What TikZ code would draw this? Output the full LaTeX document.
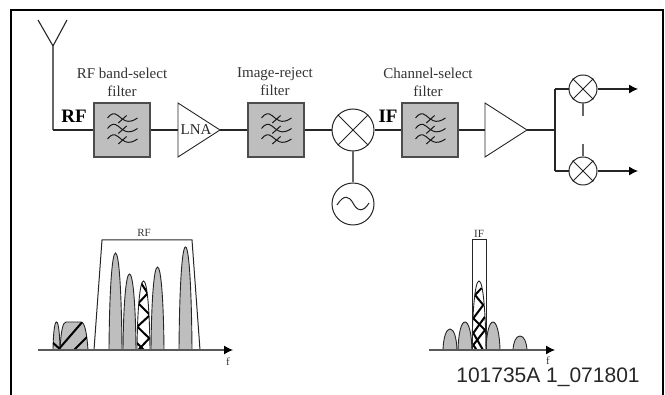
\documentclass[tikz,border=0pt]{standalone}
\usepackage{fontspec}
\setmainfont{Liberation Serif}
\newfontfamily\arialf{Liberation Sans}
\usetikzlibrary{arrows.meta}
\definecolor{fgray}{HTML}{BEBEBE}
\tikzset{
  x=1pt,y=-1pt,
  wire/.style={line width=1.1pt,black!85},
  stubw/.style={line width=1.3pt,black!60},
  filterbox/.style={draw=black!70,fill=fgray,line width=1.2pt,minimum width=56pt,minimum height=54pt,inner sep=0pt},
  caption/.style={font=\fontsize{15}{18}\selectfont,align=center,text=black!80,inner sep=0pt},
  bigtag/.style={font=\fontsize{19}{19}\selectfont\bfseries,inner sep=0pt},
  smalltag/.style={font=\fontsize{11}{11}\selectfont,text=black!80,inner sep=0pt},
  tri/.style={line width=0.9pt,black!85},
  mixer/.style={circle,draw=black!85,line width=1pt,fill=white,inner sep=0pt},
  peak/.style={draw=black!85,line width=0.9pt,fill=fgray},
  hatchline/.style={line width=2pt,black},
  axisline/.style={line width=1.1pt,black!65,-{Latex[length=9pt,width=9pt,black]}},
  outarrow/.style={wire,-{Latex[length=9pt,width=9pt,black]}}
}
\newcommand{\filterglyph}[1]{%
  \foreach \d in {-10.5,0,10.5}{
    \draw[line width=1pt,black!90,shift={(#1)},yshift=-\d pt]
      (-14.5,-1.5) .. controls (-11,-6) and (-8,-7) .. (-4,-4) .. controls (0,-1) and (5,6) .. (15.5,-1.5);
    \draw[line width=1pt,black!90,shift={(#1)},yshift=-\d pt]
      (-3.7,3.5) -- (4.6,-4);
  }%
}
\newcommand{\peakpath}[3]{(#1,350) .. controls ({#1+(#2-#1)*0.03},{#3+(350-#3)*0.42}) and ({#1+(#2-#1)*0.22},#3) .. ({(#1+#2)/2},#3) .. controls ({#2-(#2-#1)*0.22},#3) and ({#2-(#2-#1)*0.03},{#3+(350-#3)*0.42}) .. (#2,350) -- cycle}
\begin{document}
\begin{tikzpicture}
\useasboundingbox (0,0) rectangle (665,395);
\draw[line width=2pt] (11,395) -- (11,10) -- (663,10) -- (663,395);
\coordinate (ant) at (53,46);
\coordinate (antl) at (38,20);
\coordinate (antr) at (67,20);
\coordinate (corner) at (53,130);
\node[filterbox] (f1) at (122,130) {};
\node[filterbox] (f2) at (276,130) {};
\node[filterbox] (f3) at (430,130) {};
\coordinate (t1a) at (178,103); \coordinate (t1b) at (178,157); \coordinate (t1c) at (220,130);
\coordinate (t2a) at (485,103); \coordinate (t2b) at (485,157); \coordinate (t2c) at (527,130);
\node[mixer,minimum size=42pt] (m) at (353,130) {};
\node[mixer,minimum size=42pt] (osc) at (353,204) {};
\node[mixer,minimum size=28pt] (mu) at (583,89) {};
\node[mixer,minimum size=28pt] (ml) at (583,171) {};
\coordinate (split) at (555,130);
\coordinate (su) at (555,89);
\coordinate (sl) at (555,171);
\coordinate (outu) at (638,89);
\coordinate (outl) at (638,171);
\coordinate (stubu) at (583,116);
\coordinate (stubl) at (583,144);
\draw[wire] (antl) -- (ant) -- (antr);
\draw[stubw] (ant) -- (corner);
\draw[wire] (corner) -- (f1.west);
\draw[tri] (t1a) -- (t1c) -- (t1b) -- cycle;
\draw[tri] (t2a) -- (t2c) -- (t2b) -- cycle;
\node[font=\fontsize{15}{15}\selectfont,text=black!85,inner sep=0pt] (lna) at (196,130) {LNA};
\draw[wire] (f1.east) -- (t1a |- f1.east);
\draw[wire] (t1c) -- (f2.west);
\draw[wire] (f2.east) -- (m.west);
\draw[wire] (m.east) -- (f3.west);
\draw[wire] (f3.east) -- (t2a |- f3.east);
\draw[wire] (t2c) -- (split);
\draw[wire] (su) -- (sl);
\draw[wire] (su) -- (mu.west);
\draw[wire] (sl) -- (ml.west);
\draw[outarrow] (mu.east) -- (outu);
\draw[outarrow] (ml.east) -- (outl);
\draw[stubw] (mu.south) -- (stubu);
\draw[stubw] (ml.north) -- (stubl);
\draw[stubw] (m.south) -- (osc.north);
\foreach \n in {m,mu,ml}{
  \draw[wire,line width=0.9pt] (\n.north west) -- (\n.south east);
  \draw[wire,line width=0.9pt] (\n.north east) -- (\n.south west);
}
\draw[line width=1pt,black!85] (337,205) .. controls (344,194) and (349,196) .. (353,203) .. controls (357,211) and (363,213) .. (369,203);
\filterglyph{f1}
\filterglyph{f2}
\filterglyph{f3}
\node[caption] (c1) at (122,82) {RF band-select\\filter};
\node[caption] (c2) at (275,82) {Image-reject\\filter};
\node[caption] (c3) at (428,82) {Channel-select\\filter};
\node[bigtag] (rf) at (74,116) {RF};
\node[bigtag] (if) at (388,116) {IF};
% left spectrum
\draw[peak] \peakpath{53}{60}{322};
\draw[peak] (60,350) .. controls (61,330) and (63,322) .. (66,322) -- (81,322) .. controls (85,322) and (87,335) .. (88,350) -- cycle;
\draw[peak] \peakpath{109}{122}{253};
\draw[peak] \peakpath{123}{136}{274};
\draw[peak,fill=white] \peakpath{137}{150}{281};
\draw[peak] \peakpath{151}{164}{267};
\draw[peak] \peakpath{179}{192}{247};
\begin{scope}
\clip \peakpath{137}{150}{281};
\draw[hatchline] (141,283) -- (147.7,293.3) -- (138.3,303.3) -- (150,315) -- (137.3,326.7) -- (149.3,338.3) -- (137.3,351);
\draw[hatchline] (137,343) -- (145,351);
\end{scope}
\begin{scope}
\clip \peakpath{53}{60}{322};
\draw[hatchline] (52,342) -- (61,350);
\end{scope}
\begin{scope}
\clip (60,350) .. controls (61,330) and (63,322) .. (66,322) -- (81,322) .. controls (85,322) and (87,335) .. (88,350) -- cycle;
\draw[hatchline] (58,350) -- (84,320);
\draw[hatchline] (74,350) -- (90,334);
\end{scope}
\draw[line width=1pt,black!85] (94,350) -- (102,240) -- (192,240) -- (200,350);
\node[smalltag] (rfl) at (144,233) {RF};
\coordinate (ax1) at (38,350); \coordinate (ax1e) at (233,350);
\draw[axisline] (ax1) -- (ax1e);
\node[smalltag] (f1l) at (228,362) {f};
% right spectrum
\draw[peak] \peakpath{443}{457}{329};
\draw[peak] \peakpath{458}{472}{322};
\draw[peak,fill=white] \peakpath{472}{486}{281};
\draw[peak] \peakpath{486}{500}{322};
\draw[peak] \peakpath{513}{527}{336};
\begin{scope}
\clip \peakpath{472}{486}{281};
\draw[hatchline] (481.7,288) -- (475,295) -- (483.3,305) -- (473.3,318.3) -- (485,330) -- (473.3,345) -- (478,352);
\draw[hatchline] (485,316.7) -- (473.3,333) -- (483,350);
\end{scope}
\draw[line width=1pt,black!85] (472,350) -- (472,240) -- (486,240) -- (486,350);
\node[smalltag] (ifl) at (479,234) {IF};
\coordinate (ax2) at (429,350); \coordinate (ax2e) at (555,350);
\draw[axisline] (ax2) -- (ax2e);
\node[smalltag] (f2l) at (548,361) {f};
\node[font=\arialf\fontsize{21}{21}\selectfont,text=black!85,inner sep=0pt] (code) at (548,377) {101735A 1\_071801};
\end{tikzpicture}
\end{document}
